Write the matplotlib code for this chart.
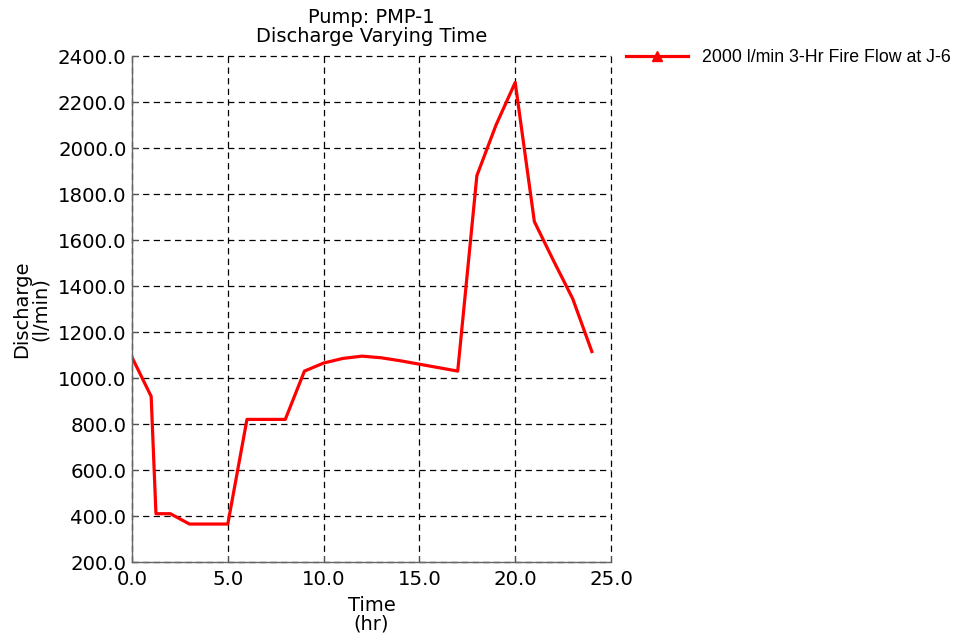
import matplotlib.pyplot as plt
from matplotlib.lines import Line2D

# Pump PMP-1 discharge over the simulation (hr, l/min)
times = [0, 1, 1.25, 2, 3, 4, 5, 6, 7, 8, 9, 10, 11, 12,
         13, 14, 15, 16, 17, 18, 19, 20, 21, 22, 23, 24]
discharge = [1090, 920, 410, 410, 365, 365, 365, 820, 820, 820, 1030, 1065, 1085, 1095,
             1088, 1075, 1060, 1045, 1030, 1880, 2100, 2285, 1680, 1510, 1345, 1115]
series_label = "2000 l/min 3-Hr Fire Flow at J-6"

x_ticks = [0, 5, 10, 15, 20, 25]
y_ticks = [200, 400, 600, 800, 1000, 1200, 1400, 1600, 1800, 2000, 2200, 2400]

fig = plt.figure(figsize=(9.58, 6.34), dpi=100)
ax = fig.add_axes([132 / 958, 1 - 562 / 634, 479 / 958, 506 / 634])

ax.plot(times, discharge, color="red", lw=2.3)

ax.set_xlim(0, 25)
ax.set_ylim(200, 2400)
ax.set_xticks(x_ticks)
ax.set_yticks(y_ticks)
ax.set_xticklabels([f"{v:.1f}" for v in x_ticks])
ax.set_yticklabels([f"{v:.1f}" for v in y_ticks])
ax.tick_params(direction="in", length=4, color="#555555", labelsize=14.2)
ax.tick_params(axis="x", pad=6)
ax.tick_params(axis="y", pad=4)

ax.grid(True, color="black", lw=0.9, linestyle=(0, (5, 3.5)))
for gl in ax.get_xgridlines() + ax.get_ygridlines():
    gl.set_clip_on(False)
for side in ["top", "right"]:
    ax.spines[side].set_visible(False)
for side in ["left", "bottom"]:
    ax.spines[side].set_color("#666666")
    ax.spines[side].set_linewidth(1)

ax.set_title("Pump: PMP-1\nDischarge Varying Time", fontsize=14, linespacing=1.0, pad=10)
ax.set_xlabel("Time\n(hr)", fontsize=14, linespacing=0.95, labelpad=5)
ax.set_ylabel("Discharge\n(l/min)", fontsize=14, linespacing=0.95, labelpad=6)

handle = Line2D([], [], color="red", lw=2.3, marker="^", markersize=7)
fig.legend([handle], [series_label], loc="upper left",
           bbox_to_anchor=(626 / 958, 1 - 49 / 634), frameon=False,
           borderaxespad=0, borderpad=0, numpoints=1,
           handlelength=3.5, handletextpad=0.8,
           prop={"family": "Liberation Sans", "size": 12.8})

plt.savefig("out.png", dpi=100)
plt.close()
